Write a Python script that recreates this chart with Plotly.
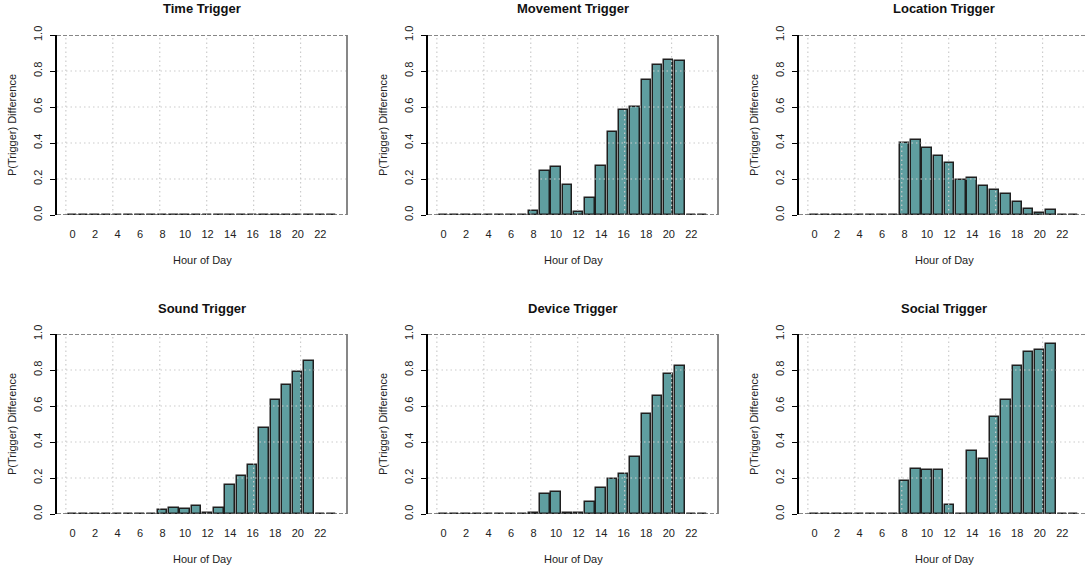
import plotly.graph_objects as go

hours = list(range(24))
titles = ["Time Trigger", "Movement Trigger", "Location Trigger",
          "Sound Trigger", "Device Trigger", "Social Trigger"]

time_vals = [0.0] * 24
movement_vals = [0, 0, 0, 0, 0, 0, 0, 0, 0.022, 0.242, 0.264, 0.169, 0.015, 0.097,
                 0.271, 0.459, 0.584, 0.600, 0.751, 0.835, 0.862, 0.857, 0, 0]
location_vals = [0, 0, 0, 0, 0, 0, 0, 0, 0.401, 0.418, 0.375, 0.329, 0.290, 0.195,
                 0.203, 0.162, 0.141, 0.117, 0.071, 0.032, 0.013, 0.030, 0, 0]
sound_vals = [0, 0, 0, 0, 0, 0, 0, 0, 0.022, 0.035, 0.028, 0.043, 0.004, 0.033,
              0.163, 0.212, 0.275, 0.479, 0.633, 0.718, 0.789, 0.848, 0, 0]
device_vals = [0, 0, 0, 0, 0, 0, 0, 0, 0.007, 0.113, 0.122, 0.007, 0.004, 0.065,
               0.143, 0.197, 0.221, 0.315, 0.553, 0.653, 0.779, 0.824, 0, 0]
social_vals = [0, 0, 0, 0, 0, 0, 0, 0, 0.184, 0.250, 0.243, 0.247, 0.050, 0.0,
               0.349, 0.304, 0.540, 0.636, 0.824, 0.900, 0.911, 0.944, 0, 0]
series = [time_vals, movement_vals, location_vals, sound_vals, device_vals, social_vals]

x_ticks = list(range(0, 24, 2))
y_ticks = [0.0, 0.2, 0.4, 0.6, 0.8, 1.0]

W, H = 1085, 569
FONT = "Liberation Sans, Arial, Helvetica, sans-serif"
BAR_FILL = "#5F9EA0"
BAR_LINE = "#1f1f1f"
GRID = "#cccccc"

# R barplot geometry: bar i centred at 0.7 + 1.2*i (space=0.2), xlim extended 4%
def to_hour(u):
    return (u - 0.7) / 1.2

u_lo, u_hi = 0.2, 28.8
ext = 0.04 * (u_hi - u_lo)
h_lo, h_hi = to_hour(u_lo - ext), to_hour(u_hi + ext)
grid_x = [to_hour(u) for u in [0, 5, 10, 15, 20, 25]]

col_px = [(57, 347), (428, 718), (799, 1089)]
row_px = [(35, 215), (334, 514)]

fig = go.Figure()
shapes = []
annotations = []

for k, (title, vals) in enumerate(zip(titles, series)):
    r, c = divmod(k, 3)
    xl, xr = col_px[c]
    yt, yb = row_px[r]
    x_hi = h_hi
    if xr > W:
        x_hi = h_lo + (h_hi - h_lo) * (W - xl) / (xr - xl)
        xr_eff = W
    else:
        xr_eff = xr
    xd = [xl / W, xr_eff / W]
    yd = [(H - yb) / H, (H - yt) / H]
    n = k + 1
    xa = "x" if n == 1 else f"x{n}"
    ya = "y" if n == 1 else f"y{n}"
    fig.add_trace(go.Bar(
        x=hours, y=vals, width=1 / 1.2, xaxis=xa, yaxis=ya,
        marker=dict(color=BAR_FILL, line=dict(color=BAR_LINE, width=1.5)),
        showlegend=False, hoverinfo="x+y"))
    fig.layout[f"xaxis{'' if n == 1 else n}"] = dict(
        domain=xd, range=[h_lo, x_hi], anchor=ya, showgrid=False, zeroline=False,
        showline=False, tickmode="array", tickvals=x_ticks, automargin=False,
        ticks="outside", ticklen=9, tickcolor="rgba(0,0,0,0)",
        tickfont=dict(size=11, color="#222", family=FONT), fixedrange=True)
    fig.layout[f"yaxis{'' if n == 1 else n}"] = dict(
        domain=yd, range=[0, 1], anchor=xa, showgrid=False, zeroline=False,
        showline=True, linecolor="#000", linewidth=1.5, automargin=False,
        tickmode="array", tickvals=y_ticks, tickformat=".1f",
        ticks="outside", ticklen=5, tickwidth=1.2, tickcolor="#000",
        tickangle=-90, ticklabelstandoff=4,
        tickfont=dict(size=11, color="#222", family=FONT), fixedrange=True)
    # grid (drawn over bars, like R's grid())
    for gx in grid_x:
        if h_lo < gx < x_hi:
            shapes.append(dict(type="line", layer="above", xref=xa, yref=f"{ya} domain",
                               x0=gx, x1=gx, y0=0, y1=1,
                               line=dict(color=GRID, width=1.2, dash="1.5px,3px")))
    for gy in y_ticks[1:-1]:
        shapes.append(dict(type="line", layer="above", xref=f"{xa} domain", yref=ya,
                           x0=0, x1=1, y0=gy, y1=gy,
                           line=dict(color=GRID, width=1.2, dash="1.5px,3px")))
    # dashed reference lines at 0 and 1
    for gy in [0, 1]:
        shapes.append(dict(type="line", layer="above", xref=f"{xa} domain", yref=ya,
                           x0=0, x1=1, y0=gy, y1=gy,
                           line=dict(color="#606060", width=1.6, dash="4px,2px")))
    # right frame edge
    if xr <= W:
        shapes.append(dict(type="line", layer="above", xref=f"{xa} domain", yref=f"{ya} domain",
                           x0=1, x1=1, y0=0, y1=1,
                           line=dict(color="#7a7a7a", width=1.8)))
    # titles
    cx = (xl + xr) / 2 / W
    annotations.append(dict(text=f"<b>{title}</b>", xref="paper", yref="paper",
                            x=cx, y=(H - (yt - 26)) / H, xanchor="center", yanchor="middle",
                            showarrow=False, font=dict(size=13, color="#111", family=FONT)))
    annotations.append(dict(text="Hour of Day", xref="paper", yref="paper",
                            x=cx, y=(H - (yb + 45)) / H, xanchor="center", yanchor="middle",
                            showarrow=False, font=dict(size=11, color="#222", family=FONT)))
    annotations.append(dict(text="P(Trigger) Difference", xref="paper", yref="paper",
                            x=(xl - 45) / W, y=(H - (yt + yb) / 2) / H,
                            xanchor="center", yanchor="middle", textangle=-90,
                            showarrow=False, font=dict(size=11, color="#222", family=FONT)))

fig.update_layout(
    width=W, height=H, margin=dict(l=0, r=0, t=0, b=0, autoexpand=False),
    paper_bgcolor="white", plot_bgcolor="white",
    shapes=shapes, annotations=annotations, bargap=0,
    font=dict(family=FONT),
)

fig.write_html("out.html", config={"displayModeBar": False},
               post_script="document.body.style.margin='0';")
